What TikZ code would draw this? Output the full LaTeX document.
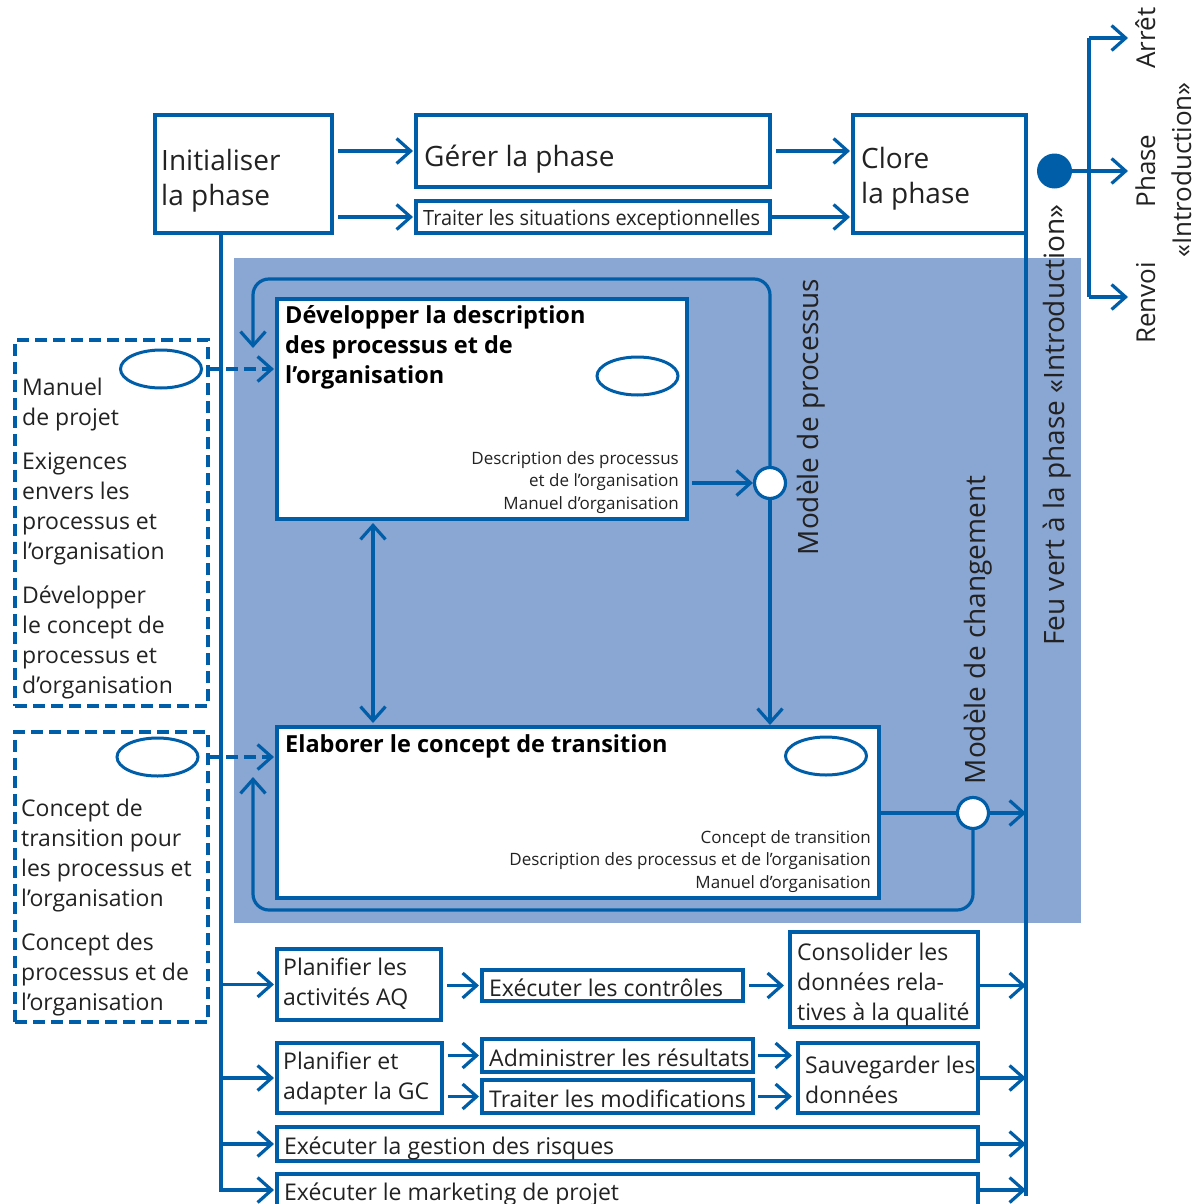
\documentclass[tikz,border=0pt]{standalone}
\usepackage{fontspec}
\setmainfont{Open Sans}
\newfontfamily\condf[FakeStretch=0.95]{Open Sans}
\usetikzlibrary{arrows.meta,shapes.geometric,calc}
\definecolor{blu}{RGB}{0,94,168}
\definecolor{pnl}{RGB}{138,166,210}
\definecolor{ink}{RGB}{34,34,34}
\newcommand\fntBig{\fontsize{28}{35}\selectfont}
\newcommand\fntMid{\fontsize{23}{30}\selectfont}
\newcommand\fntSm{\fontsize{17}{22.5}\selectfont}
\newcommand\fntRot{\fontsize{28}{34}\selectfont}
\newcommand\fntBr{\fontsize{26}{32}\selectfont}
\begin{document}
\begin{tikzpicture}[x=1pt,y=-1pt,
  box/.style={draw=blu, line width=3.2pt, fill=white, rectangle, inner sep=0pt, outer sep=0pt},
  dbox/.style={draw=blu, line width=3.2pt, dash pattern=on 12pt off 6pt, rectangle, inner sep=0pt, outer sep=0pt},
  ell/.style={draw=blu, line width=3pt, ellipse, minimum width=81, minimum height=38, inner sep=0pt},
  ring/.style={circle, draw=blu, line width=3.2pt, fill=white, minimum size=31, inner sep=0pt},
  ln/.style={draw=blu, line width=3.2pt},
  arr/.style={ln, -{Straight Barb[length=14pt,width=25pt]}},
  darr/.style={arr, dash pattern=on 12pt off 6pt},
  dbl/.style={ln, {Straight Barb[length=14pt,width=25pt]}-{Straight Barb[length=14pt,width=25pt]}},
  tl/.style={inner sep=0pt, text=ink, anchor=base west},
  ml/.style={inner sep=0pt, text=ink, anchor=north west, align=left},
  rt/.style={inner sep=0pt, text=ink, rotate=90, anchor=base}
]
\useasboundingbox (0,0) rectangle (1199,1204);

% background panel
\node[fill=pnl, inner sep=0pt, minimum width=847, minimum height=665] (panel) at (657.5,590.5) {};

% top row
\node[box, minimum width=177, minimum height=118] (init) at (243.5,174) {};
\node[ml, font=\fntBig] (initT) at (161,145.5) {\strut Initialiser\\la phase};
\node[box, minimum width=354, minimum height=72] (gerer) at (593,151) {};
\node[tl, font=\fntBig] (gererT) at (424,166) {Gérer la phase};
\node[box, minimum width=354, minimum height=32] (traiter) at (593,217) {};
\node[tl, font=\condf\fontsize{21}{25}\selectfont] (traiterT) at (423,225) {Traiter les situations exceptionnelles};
\node[box, minimum width=173, minimum height=118] (clore) at (939.5,174) {};
\node[ml, font=\fntBig] (cloreT) at (861,143.5) {\strut Clore\\la phase};

\draw[arr, shorten <=6pt, shorten >=3pt] (init.east |- gerer.west) -- (gerer.west);
\draw[arr, shorten <=6pt, shorten >=3pt] (init.east |- traiter.west) -- (traiter.west);
\draw[arr, shorten <=6pt, shorten >=3pt] (gerer.east) -- (gerer.east -| clore.west);
\draw[arr, shorten >=3pt] (traiter.east) -- (traiter.east -| clore.west);

% feu vert line
\coordinate (feuBot) at (1026,1196);
\draw[ln] (clore.north east) -- (feuBot);
\node[rt, font=\fntRot] (feu) at (1064,425) {Feu vert à la phase «Introduction»};

% branch on the right
\node[circle, fill=blu, minimum size=35, inner sep=0pt] (dot) at (1054.5,171) {};
\coordinate (brMid) at (1089,171);
\coordinate (brTop) at (1089,38);
\coordinate (brBot) at (1089,297);
\coordinate (tipx) at (1128,0);
\draw[ln] (dot) -- (brMid);
\draw[ln] (brTop) -- (brBot);
\draw[arr] (brTop) -- (brTop -| tipx);
\draw[arr] (brMid) -- (brMid -| tipx);
\draw[arr] (brBot) -- (brBot -| tipx);
\node[rt, font=\fntBr] (arret) at (1155,38) {Arrêt};
\node[rt, font=\fntBr] (phase) at (1155,171) {Phase};
\node[rt, font=\fntBr] (intro) at (1191,170) {«Introduction»};
\node[rt, font=\fntBr] (renvoi) at (1155,303) {Renvoi};

% Developper box
\node[box, minimum width=410, minimum height=220] (dev) at (482,409) {};
\node[ml, text=black, font=\bfseries\fontsize{23.5}{30}\selectfont] (devT) at (285,302) {\strut Développer la description\\des processus et de\\l’organisation};
\node[ml, anchor=north east, align=right, font=\fntSm] (devS) at (679,448.25) {\strut Description des processus\\et de l’organisation\\Manuel d’organisation};
\node[ell] (devE) at (637.5,376) {};

% Elaborer box
\node[box, minimum width=602, minimum height=171] (elab) at (578,812.5) {};
\node[tl, text=black, font=\bfseries\fontsize{23.5}{30}\selectfont] (elabT) at (285,752) {Elaborer le concept de transition};
\node[ml, anchor=north east, align=right, font=\fntSm] (elabS) at (871,827.25) {\strut Concept de transition\\Description des processus et de l’organisation\\Manuel d’organisation};
\node[ell] (elabE) at (826,756) {};

% process model circle and loop
\node[ring] (c1) at (770,483) {};
\draw[arr, shorten <=5pt] (dev.east |- c1) -- (c1.west);
\coordinate (l1) at (253,279);
\coordinate (l1tip) at (253,348);
\draw[arr, rounded corners=16pt] (c1.north) |- (l1) -- (l1tip);
\draw[arr, shorten >=2pt] (c1.south) -- (c1.south |- elab.north);
\node[rt, font=\fntRot] (mproc) at (818,417) {Modèle de processus};

\coordinate (dblx) at (373,620);
\draw[dbl, shorten <=4pt, shorten >=4pt] (dev.south -| dblx) -- (elab.north -| dblx);

% change model circle and loop
\node[ring] (c2) at (973,813) {};
\draw[ln] (elab.east |- c2) -- (c2.west);
\draw[arr] (c2.east) -- (c2.east -| feuBot);
\coordinate (l2) at (253,910);
\coordinate (l2tip) at (253,777);
\draw[arr, rounded corners=16pt] (c2.south) |- (l2) -- (l2tip);
\node[rt, font=\fntRot] (mchg) at (985,630) {Modèle de changement};

% dashed input boxes
\node[dbox, minimum width=193, minimum height=366] (in1) at (111.5,523) {};
\node[ell] (in1E) at (161,369) {};
\node[ml, font=\fntMid] (in1T) at (22,374) {\strut Manuel\\de projet\\[14pt]Exigences\\envers les\\processus et\\l’organisation\\[14pt]Développer\\le concept de\\processus et\\d’organisation};
\draw[darr, shorten >=3pt] (in1E -| in1.east) -- (in1E -| dev.west);

\node[dbox, minimum width=193, minimum height=290] (in2) at (111.5,877) {};
\node[ell] (in2E) at (157.5,757) {};
\node[ml, font=\fntMid] (in2T) at (21,795) {\strut Concept de\\transition pour\\les processus et\\l’organisation\\[14pt]Concept des\\processus et de\\l’organisation};
\draw[darr, shorten >=3pt] (in2E -| in2.east) -- (in2E -| elab.west);

% bottom rows
\node[box, minimum width=164, minimum height=71] (qa1) at (359,984.5) {};
\node[ml, font=\fntMid] (qa1T) at (283,954) {\strut Planifier les\\activités AQ};
\node[box, minimum width=261, minimum height=31] (ctrl) at (612.5,985.5) {};
\node[tl, font=\fntMid] (ctrlT) at (489,996) {Exécuter les contrôles};
\node[box, minimum width=188, minimum height=95] (cons) at (884,979.5) {};
\node[ml, font=\fntMid] (consT) at (797,939) {\strut Consolider les\\données rela-\\tives à la qualité};

\node[box, minimum width=165, minimum height=70] (gc1) at (359.5,1078) {};
\node[ml, font=\fntMid] (gc1T) at (283,1048) {\strut Planifier et\\adapter la GC};
\node[box, minimum width=271, minimum height=33] (adm) at (617.5,1055.5) {};
\node[tl, font=\fntMid] (admT) at (489,1066) {Administrer les résultats};
\node[box, minimum width=271, minimum height=33] (modif) at (617.5,1096.5) {};
\node[tl, font=\fntMid] (modifT) at (489,1107) {Traiter les modifications};
\node[box, minimum width=180, minimum height=70] (sauv) at (888,1078) {};
\node[ml, font=\fntMid] (sauvT) at (805,1052) {\strut Sauvegarder les\\données};

\node[box, minimum width=701, minimum height=34] (risk) at (627.5,1144) {};
\node[tl, font=\fntMid] (riskT) at (284,1154) {Exécuter la gestion des risques};
\node[box, minimum width=701, minimum height=46] (mkt) at (627.5,1197) {};
\node[tl, font=\fntMid] (mktT) at (284,1200) {Exécuter le marketing de projet};

% trunk from Initialiser
\coordinate (trunk) at (221,1190);
\draw[arr, shorten >=3pt] (init.south -| trunk) -- (trunk) -- (trunk -| mkt.west);
\draw[arr, shorten >=3pt] (qa1.west -| trunk) -- (qa1.west);
\draw[arr, shorten >=3pt] (gc1.west -| trunk) -- (gc1.west);
\draw[arr, shorten >=3pt] (risk.west -| trunk) -- (risk.west);

% inner arrows
\draw[arr, shorten <=6pt, shorten >=3pt] (qa1.east |- ctrl.west) -- (ctrl.west);
\draw[arr, shorten <=6pt, shorten >=6pt] (ctrl.east) -- (ctrl.east -| cons.west);
\draw[arr, shorten <=6pt, shorten >=3pt] (gc1.east |- adm.west) -- (adm.west);
\draw[arr, shorten <=6pt, shorten >=3pt] (gc1.east |- modif.west) -- (modif.west);
\draw[arr, shorten <=5pt, shorten >=6pt] (adm.east) -- (adm.east -| sauv.west);
\draw[arr, shorten <=5pt, shorten >=6pt] (modif.east) -- (modif.east -| sauv.west);

% outputs to the feu vert line
\draw[arr] (cons.east |- ctrl.east) -- (ctrl.east -| feuBot);
\draw[arr] (sauv.east) -- (sauv.east -| feuBot);
\draw[arr] (risk.east) -- (risk.east -| feuBot);
\draw[arr] (trunk -| mkt.east) -- (trunk -| feuBot);
\end{tikzpicture}
\end{document}
